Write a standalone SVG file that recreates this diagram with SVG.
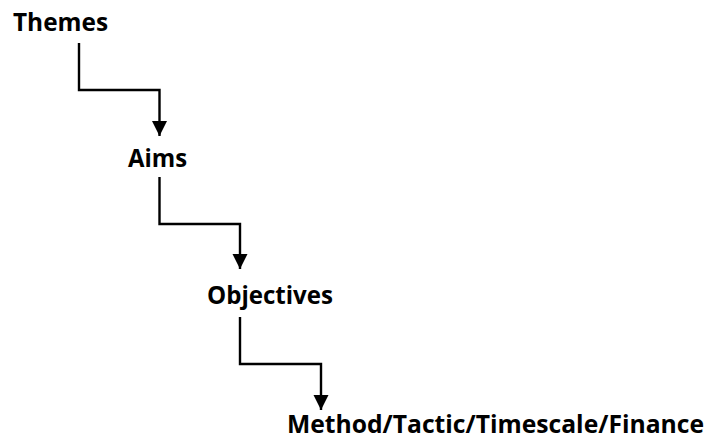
<svg xmlns="http://www.w3.org/2000/svg" width="707" height="444" viewBox="0 0 707 444">
<style>
.lbl{font-family:"Open Sans","Liberation Sans",sans-serif;font-weight:bold;font-size:24.5px;fill:#000}
.conn{fill:none;stroke:#000;stroke-width:2.4}
</style>
<defs>
<marker id="arr" markerUnits="userSpaceOnUse" markerWidth="16" markerHeight="16" viewBox="0 0 16 16" refX="15" refY="8" orient="auto">
<path d="M0,0.5 L15,8 L0,15.5 Z" fill="#000"/>
</marker>
</defs>
<rect width="707" height="444" fill="#fff"/>
<g id="connectors">
<path class="conn" d="M79,43 V90 H159.5 V136" marker-end="url(#arr)"/>
<path class="conn" d="M159.5,177 V224 H240 V269" marker-end="url(#arr)"/>
<path class="conn" d="M240,317 V364 H321 V410" marker-end="url(#arr)"/>
</g>
<g id="themes"><text class="lbl" x="13" y="31" textLength="95" lengthAdjust="spacingAndGlyphs">Themes</text></g>
<g id="aims"><text class="lbl" x="128" y="167" textLength="59" lengthAdjust="spacingAndGlyphs">Aims</text></g>
<g id="objectives"><text class="lbl" x="207" y="304" textLength="126" lengthAdjust="spacingAndGlyphs">Objectives</text></g>
<g id="method"><text class="lbl" x="287" y="433" textLength="417" lengthAdjust="spacingAndGlyphs">Method/Tactic/Timescale/Finance</text></g>
</svg>
